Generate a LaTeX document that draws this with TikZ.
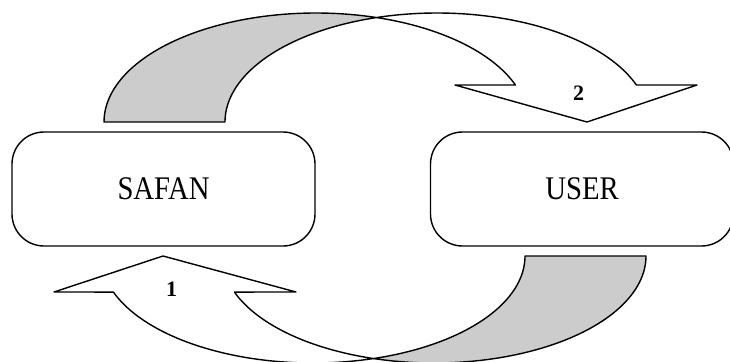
\documentclass[tikz,border=0pt]{standalone}
\usepackage{fontspec}
\setmainfont{Liberation Serif}
\newfontfamily\boxfont[FakeStretch=0.87]{Liberation Serif}
\definecolor{shadegray}{RGB}{204,204,204}
\begin{document}
\begin{tikzpicture}[x=1pt,y=-1pt, line width=1.4pt, line join=round,
  box/.style={draw, rounded corners=32pt, minimum width=303pt, minimum height=114pt,
    font=\boxfont\fontsize{33}{36}\selectfont, inner sep=0pt},
  backface/.style={draw, fill=shadegray},
  frontface/.style={draw, fill=white},
  num/.style={font=\bfseries\fontsize{22}{24}\selectfont, inner sep=0pt}]
\useasboundingbox (0,0) rectangle (730,361);

% boxes
\node[box] (safan) at (163.5,189) {SAFAN};
\node[box] (user) at (582,189) {USER};

% top curved arrow (SAFAN -> USER)
\draw[backface] plot[domain=180:73.42,samples=60] ({316+212*cos(\x)},{122-109*sin(\x)})
  -- plot[domain=106.58:180,samples=60] ({437+212*cos(\x)},{122-109*sin(\x)}) -- cycle;
\draw[frontface] plot[domain=106.58:19.84,samples=60] ({437+212*cos(\x)},{122-109*sin(\x)})
  -- (697,85) -- (587,122) -- (455,85)
  -- plot[domain=19.84:73.42,samples=60] ({316+212*cos(\x)},{122-109*sin(\x)}) -- cycle;

% bottom curved arrow (USER -> SAFAN)
\draw[backface] plot[domain=0:106.58,samples=60] ({434+212*cos(\x)},{256+107*sin(\x)})
  -- plot[domain=73.42:0,samples=60] ({313+212*cos(\x)},{256+107*sin(\x)}) -- cycle;
\draw[frontface] plot[domain=73.42:160.3,samples=60] ({313+212*cos(\x)},{256+107*sin(\x)})
  -- (54,292) -- (163,256) -- (296,292)
  -- plot[domain=160.3:106.58,samples=60] ({434+212*cos(\x)},{256+107*sin(\x)}) -- cycle;

% labels
\node[num] (n1) at (171.5,289.5) {1};
\node[num] (n2) at (578.5,93.5) {2};
\end{tikzpicture}
\end{document}
